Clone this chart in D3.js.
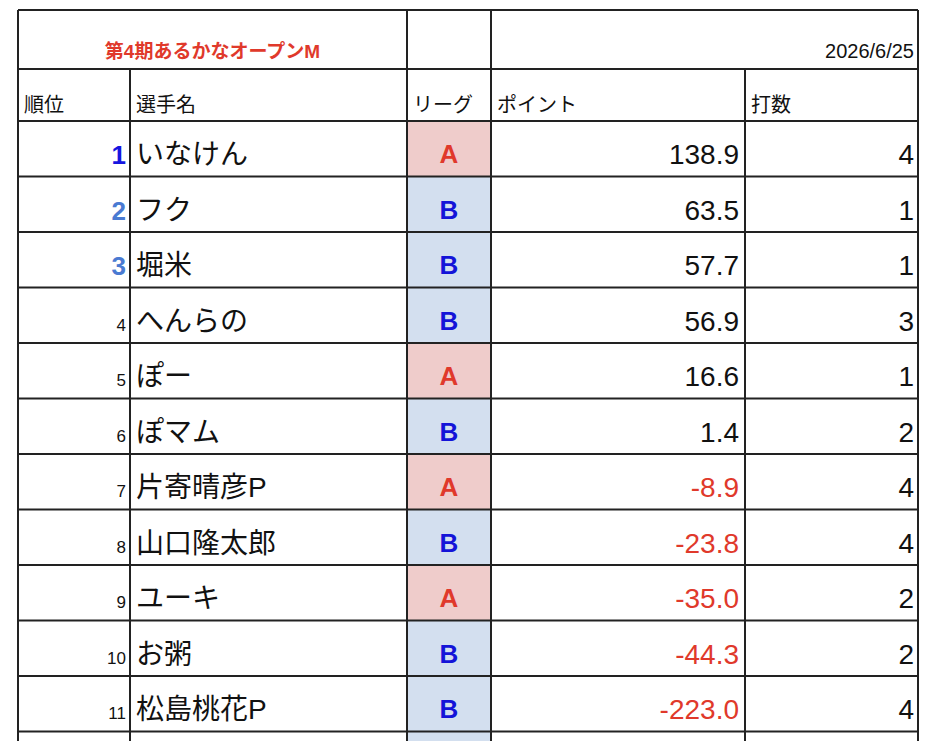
<!DOCTYPE html>
<html>
<head>
<meta charset="utf-8">
<script src="https://d3js.org/d3.v7.min.js"></script>
<style>
  body { margin: 0; background: #fff; }
  text { font-family: "Liberation Sans", "Noto Sans CJK JP", sans-serif; }
</style>
</head>
<body>
<script>
// data
var title = "第4期あるかなオープンM";
var dateLabel = "2026/6/25";
var headers = ["順位", "選手名", "リーグ", "ポイント", "打数"];
var ranks = [1, 2, 3, 4, 5, 6, 7, 8, 9, 10, 11];
var names = ["いなけん", "フク", "堀米", "へんらの", "ぽー", "ぽマム", "片寄晴彦P", "山口隆太郎", "ユーキ", "お粥", "松島桃花P"];
var leagues = ["A", "B", "B", "B", "A", "B", "A", "B", "A", "B", "B"];
var points = [138.9, 63.5, 57.7, 56.9, 16.6, 1.4, -8.9, -23.8, -35.0, -44.3, -223.0];
var games = [4, 1, 1, 3, 1, 2, 4, 4, 2, 2, 4];

// layout
var W = 942, H = 741;
var colEdges = [18, 130, 407, 491, 745, 918];
var rowTop = 121, rowH = 55.5;

var svg = d3.select("body").append("svg").attr("width", W).attr("height", H);

var y = d3.scaleLinear().domain([0, 1]).range([rowTop, rowTop + rowH]);
var nRows = ranks.length + 1; // one extra partial row at bottom

// league cell backgrounds
svg.append("g").selectAll("rect").data(leagues).enter().append("rect")
  .attr("x", colEdges[2]).attr("width", colEdges[3] - colEdges[2])
  .attr("y", function(d, i) { return y(i); }).attr("height", rowH)
  .attr("fill", function(d) { return d === "A" ? "#efcccb" : "#d3dfef"; });
svg.append("rect").attr("x", colEdges[2]).attr("width", colEdges[3] - colEdges[2])
  .attr("y", y(ranks.length)).attr("height", rowH).attr("fill", "#d3dfef");

var grid = svg.append("g").attr("stroke", "#222").attr("stroke-width", 2);
// outer top / title row
grid.append("line").attr("x1", colEdges[0]).attr("x2", colEdges[5]).attr("y1", 10).attr("y2", 10);
grid.append("line").attr("x1", colEdges[0]).attr("x2", colEdges[5]).attr("y1", 69).attr("y2", 69);
// horizontal row lines
d3.range(nRows).forEach(function(i) {
  grid.append("line").attr("x1", colEdges[0]).attr("x2", colEdges[5]).attr("y1", y(i)).attr("y2", y(i));
});
// vertical lines
colEdges.forEach(function(x, j) {
  var top = (j === 1 || j === 4) ? 69 : 10;
  grid.append("line").attr("x1", x).attr("x2", x).attr("y1", top).attr("y2", H);
});

// title row
svg.append("text").attr("x", (colEdges[0] + colEdges[2]) / 2).attr("y", 58)
  .attr("text-anchor", "middle").attr("font-size", 19).attr("font-weight", "bold")
  .attr("fill", "#e0392b").text(title);
svg.append("text").attr("x", colEdges[5] - 4).attr("y", 58)
  .attr("text-anchor", "end").attr("font-size", 20).attr("fill", "#111").text(dateLabel);

// headers
headers.forEach(function(h, j) {
  svg.append("text").attr("x", colEdges[j] + 6).attr("y", 112)
    .attr("font-size", 20).attr("fill", "#111").text(h);
});

var rows = svg.append("g").selectAll("g").data(ranks).enter().append("g")
  .attr("transform", function(d, i) { return "translate(0," + y(i) + ")"; });

var base = 43;
rows.append("text").attr("x", colEdges[1] - 4).attr("y", base)
  .attr("text-anchor", "end")
  .attr("font-size", function(d) { return d <= 3 ? 26 : 17; })
  .attr("font-weight", function(d) { return d <= 3 ? "bold" : "normal"; })
  .attr("fill", function(d) { return d === 1 ? "#1515e0" : d <= 3 ? "#4a7ad2" : "#111"; })
  .text(function(d) { return d; });

rows.append("text").attr("x", colEdges[1] + 6).attr("y", base)
  .attr("font-size", 28).attr("fill", "#111")
  .text(function(d, i) { return names[i]; });

rows.append("text").attr("x", (colEdges[2] + colEdges[3]) / 2).attr("y", base - 1)
  .attr("text-anchor", "middle").attr("font-size", 26).attr("font-weight", "bold")
  .attr("fill", function(d, i) { return leagues[i] === "A" ? "#e0392b" : "#1414d8"; })
  .text(function(d, i) { return leagues[i]; });

rows.append("text").attr("x", colEdges[4] - 6).attr("y", base)
  .attr("text-anchor", "end").attr("font-size", 28)
  .attr("fill", function(d, i) { return points[i] < 0 ? "#e0392b" : "#111"; })
  .text(function(d, i) { return d3.format(".1f")(points[i]).replace("−", "-"); });

rows.append("text").attr("x", colEdges[5] - 4).attr("y", base)
  .attr("text-anchor", "end").attr("font-size", 28).attr("fill", "#111")
  .text(function(d, i) { return games[i]; });
</script>
</body>
</html>
